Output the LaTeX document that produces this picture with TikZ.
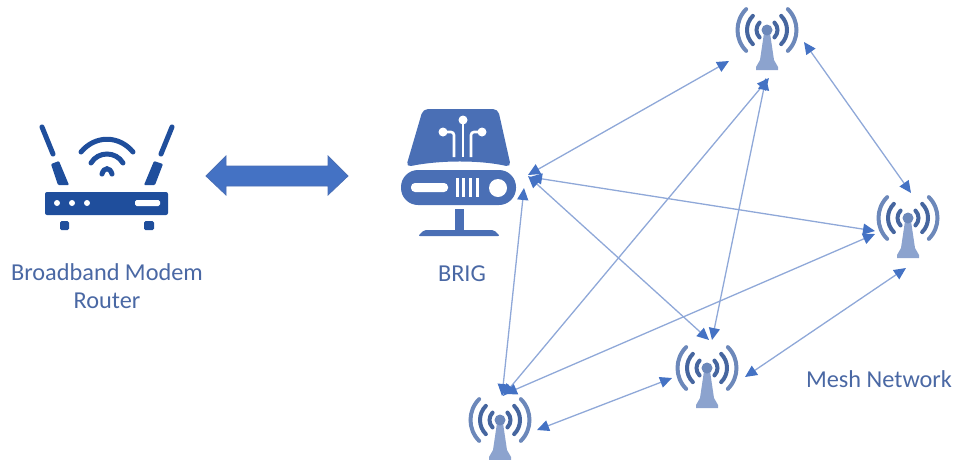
\documentclass[tikz,border=0pt]{standalone}
\usepackage{fontspec}
\setmainfont{Carlito}
\usetikzlibrary{arrows.meta}
\definecolor{routerblue}{HTML}{1F4E9C}
\definecolor{brigblue}{HTML}{4A6FB5}
\definecolor{arrowblue}{HTML}{4472C4}
\definecolor{linkblue}{HTML}{8FA8D8}
\definecolor{textblue}{HTML}{4A68A4}
\definecolor{mastblue}{HTML}{8CA3CE}
\definecolor{wavedark}{HTML}{46669F}
\definecolor{wavelight}{HTML}{6C88BA}
\tikzset{
    x=1pt, y=-1pt,
    label text/.style={text=textblue, font=\fontsize{24.3}{29}\selectfont, inner sep=0pt},
    link/.style={draw=linkblue, line width=1.3pt, {Triangle[length=12pt, width=11pt, color=arrowblue]}-{Triangle[length=12pt, width=11pt, color=arrowblue]}},
    pics/mast/.style={code={
        % waves on both sides of the head
        \foreach \r/\c in {10.5/wavedark, 20/wavedark, 29.5/wavelight}{
            \draw[\c, line width=4pt, line cap=round] (-45:\r pt) arc[start angle=-45, end angle=45, radius=\r pt];
            \draw[\c, line width=4pt, line cap=round] (135:\r pt) arc[start angle=135, end angle=225, radius=\r pt];
        }
        % mast and head
        \fill[mastblue] (-3, 3) -- (-7, 30) -- (-11, 37) -- (-11, 40) -- (11, 40) -- (11, 37) -- (7, 30) -- (3, 3) -- cycle;
        \fill[wavelight] (0, 0) circle (5.5pt);
    }}
}

\begin{document}
\begin{tikzpicture}
        \useasboundingbox (0, 0) rectangle (955, 459);
        % draw router
        \fill[routerblue, rounded corners=2pt] (45, 192) rectangle (168, 215);
        \fill[white] (57, 203) circle (3pt) (72, 203) circle (3pt) (87, 203) circle (3pt);
        \fill[white, rounded corners=1.7pt] (135, 200) rectangle (160, 206);
        \fill[routerblue, rounded corners=1.5pt] (60, 221) rectangle (69, 230) (144, 221) rectangle (154, 230);
        \draw[routerblue, line width=5pt, line cap=round] (42, 127) -- (53, 154) (172, 127) -- (161, 154);
        \fill[routerblue, rounded corners=1pt] (51, 164) -- (59, 161) -- (69, 185) -- (58, 185) -- cycle;
        \fill[routerblue, rounded corners=1pt] (163, 164) -- (154, 161) -- (144, 185) -- (155, 185) -- cycle;
        \draw[routerblue, line width=5pt, line cap=round]
            (81, 152) .. controls (95, 135) and (119, 135) .. (133, 152)
            (91, 163) .. controls (98, 151) and (116, 151) .. (123, 163)
            (102, 174) .. controls (104, 167) and (110, 167) .. (112, 174);
        % draw double arrow
        \filldraw[fill=arrowblue, draw=brigblue, line width=0.8pt] (206, 176) -- (226, 156) -- (226, 166) -- (328, 166) -- (328, 156) -- (348, 176) -- (328, 195) -- (328, 186) -- (226, 186) -- (226, 195) -- cycle;
        % draw BRIG box
        \fill[brigblue, rounded corners=5pt] (423, 109) -- (498, 109) -- (511, 167) .. controls (480, 160) and (440, 160) .. (406, 167) -- cycle;
        \draw[white, line width=2.6pt] (463, 120) -- (463, 157);
        \draw[white, line width=2.6pt, rounded corners=3pt] (443, 132) -- (454, 132) -- (454, 157);
        \draw[white, line width=2.6pt, rounded corners=3pt] (482, 132) -- (471, 132) -- (471, 157);
        \fill[white] (463, 120) circle (4.5pt) (443, 132) circle (4.5pt) (482, 132) circle (4.5pt);
        \fill[brigblue, rounded corners=17pt] (401, 170) rectangle (516, 205);
        \fill[white, rounded corners=4pt] (411, 183) rectangle (448, 192);
        \foreach \x in {457, 463, 470, 477}{
            \fill[white] (\x - 1.5, 178) rectangle (\x + 1.5, 197);
        }
        \fill[white] (498, 188) circle (9pt);
        \fill[brigblue] (455, 209) rectangle (464, 231);
        \fill[brigblue, rounded corners=2pt] (424, 230) -- (494, 230) -- (500, 236) -- (418, 236) -- cycle;
        % draw mesh towers
        \pic at (767, 30) {mast};
        \pic at (908, 218) {mast};
        \pic at (707, 368) {mast};
        \pic at (500, 420) {mast};
        % ends of the mesh links
        \coordinate (hubT) at (528, 175);
        \coordinate (hubR) at (530, 177);
        \coordinate (hubM) at (528, 176);
        \coordinate (hubL) at (524, 188);
        \coordinate (topH) at (729, 61);
        \coordinate (topL) at (769, 78);
        \coordinate (topM) at (766, 78);
        \coordinate (topR) at (804, 42);
        \coordinate (rightT) at (911, 193);
        \coordinate (rightH) at (875, 231);
        \coordinate (rightL) at (875, 234);
        \coordinate (rightM) at (906, 268);
        \coordinate (midH) at (709, 340);
        \coordinate (midT) at (712, 340);
        \coordinate (midR) at (745, 377);
        \coordinate (midL) at (672, 378);
        \coordinate (leftH) at (502, 396);
        \coordinate (leftT) at (503, 396);
        \coordinate (leftR) at (505, 394);
        \coordinate (leftM) at (537, 430);
        % draw mesh links
        \foreach \a/\b in {hubT/topH, hubR/rightH, hubM/midH, hubL/leftH, leftT/topL, leftR/rightL, topM/midT, topR/rightT, rightM/midR, midL/leftM}{
            \draw[link] (\a) -- (\b);
        }
        % add labels
        \node[label text] (modem) at (107, 272) {Broadband Modem};
        \node[label text] (router) at (107, 301) {Router};
        \node[label text] (brig) at (462, 274) {BRIG};
        \node[label text] (mesh) at (879, 379) {Mesh Network};
    \end{tikzpicture}
\end{document}
